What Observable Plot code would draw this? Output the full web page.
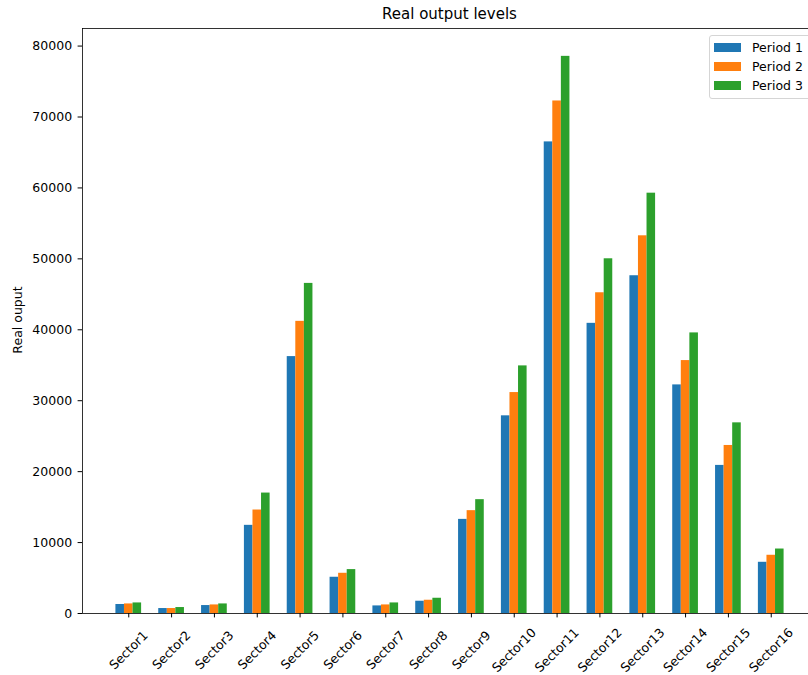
<!DOCTYPE html>
<html><head><meta charset="utf-8">
<script src="https://cdn.jsdelivr.net/npm/d3@7"></script>
<script src="https://cdn.jsdelivr.net/npm/@observablehq/plot@0.6"></script>
<style>
body{margin:0;background:#fff;font-family:"DejaVu Sans",sans-serif;}
#wrap{position:relative;width:808px;height:675px;overflow:hidden;background:#fff;}
#wrap svg{position:absolute;left:0;top:0;max-width:none !important;width:817px !important;height:675px !important;}
#title{position:absolute;left:0;width:899px;top:5px;text-align:center;font-size:15px;color:#000;z-index:2;}
#ylab{position:absolute;left:17px;top:320px;transform:translate(-50%,-50%) rotate(-90deg);font-size:12.5px;white-space:nowrap;color:#000;z-index:2;}
#legend{position:absolute;left:709px;top:35px;width:120px;height:62px;border:1px solid #d5d5d5;border-radius:3px;background:rgba(255,255,255,0.8);z-index:2;}
.row{position:absolute;left:4px;height:19px;display:flex;align-items:center;font-size:12.5px;color:#000;white-space:nowrap;}
.sw{width:27px;height:9px;margin-right:11px;}
</style></head><body><div id="wrap"><div id="title"></div><div id="ylab"></div><div id="legend"></div></div>
<script>
const sectors = ["Sector1","Sector2","Sector3","Sector4","Sector5","Sector6","Sector7","Sector8","Sector9","Sector10","Sector11","Sector12","Sector13","Sector14","Sector15","Sector16"];
const periods = ["Period 1","Period 2","Period 3"];
const period1 = [1270, 700, 1120, 12430, 36220, 5110, 1070, 1730, 13270, 27870, 66490, 40910, 47620, 32230, 20880, 7220];
const period2 = [1350, 700, 1210, 14590, 41190, 5670, 1210, 1870, 14500, 31150, 72260, 45220, 53250, 35660, 23690, 8210];
const period3 = [1490, 840, 1350, 16980, 46540, 6190, 1490, 2150, 16050, 34910, 78550, 50010, 59260, 39560, 26880, 9090];
const yTicks = [0, 10000, 20000, 30000, 40000, 50000, 60000, 70000, 80000];
const colors = ["#1f77b4", "#ff7f0e", "#2ca02c"];
const titleText = "Real output levels";
const yLabel = "Real ouput";

// grouped bars as in matplotlib: bar width 0.2, offsets -0.2, 0, +0.2 around each sector index
const barWidth = 0.2;
const series = [period1, period2, period3];
const rows = sectors.flatMap((s, i) => periods.map((p, j) => ({
  idx: i, period: p, value: series[j][i],
  x1: i + (j - 1) * barWidth - barWidth / 2,
  x2: i + (j - 1) * barWidth + barWidth / 2
})));
const xMin = d3.min(rows, d => d.x1), xMax = d3.max(rows, d => d.x2);
const xPad = (xMax - xMin) * 0.05;
const ymax = d3.max(rows, d => d.value) * 1.05;

const chart = Plot.plot({
  width: 817, height: 675,
  marginTop: 28, marginBottom: 62, marginLeft: 82, marginRight: 0,
  style: {fontFamily: "DejaVu Sans", fontSize: "12.5px", color: "black", background: "transparent"},
  x: {domain: [xMin - xPad, xMax + xPad], label: null},
  y: {domain: [0, ymax], label: null},
  color: {domain: periods, range: colors},
  marks: [
    Plot.rectY(rows, {x1: "x1", x2: "x2", y: "value", fill: "period"}),
    Plot.frame({stroke: "black", strokeWidth: 0.8}),
    Plot.axisY({ticks: yTicks, tickFormat: "d", tickSize: 4.4, tickPadding: 6, label: null, stroke: "black"}),
    Plot.axisX({ticks: sectors.map((_, i) => i), tickFormat: i => sectors[i], tickSize: 4.4, tickPadding: 32.5,
                tickRotate: -45, textAnchor: "middle", lineAnchor: "middle", label: null, stroke: "black"})
  ]
});
document.getElementById("wrap").appendChild(chart);
document.getElementById("title").textContent = titleText;
document.getElementById("ylab").textContent = yLabel;
const leg = document.getElementById("legend");
periods.forEach((p, j) => {
  const r = document.createElement("div");
  r.className = "row";
  r.style.top = (1.5 + j * 19.2) + "px";
  r.innerHTML = `<div class="sw" style="background:${colors[j]}"></div><span>${p}</span>`;
  leg.appendChild(r);
});
</script></body></html>
